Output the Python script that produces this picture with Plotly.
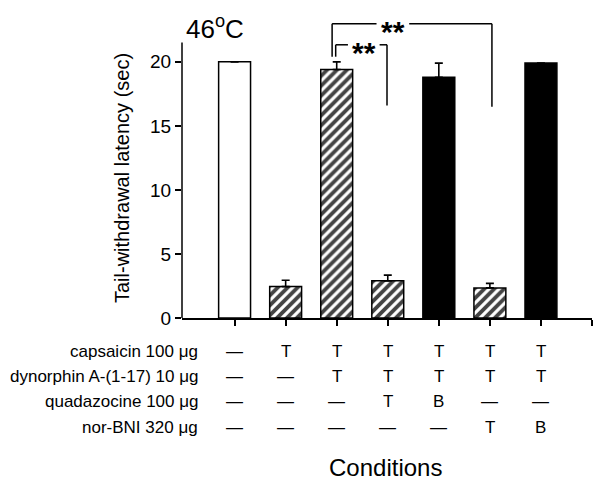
import plotly.graph_objects as go

# ---- data ----
conditions = ["C1", "C2", "C3", "C4", "C5", "C6", "C7"]
latency = [20.0, 2.45, 19.4, 2.9, 18.8, 2.35, 19.9]
sem = [0.0, 0.5, 0.6, 0.45, 1.1, 0.35, 0.0]
bar_fill = ["white", "white", "white", "white", "black", "white", "black"]
bar_hatch = ["", "/", "/", "/", "", "/", ""]

row_labels = ["capsaicin 100 μg", "dynorphin A-(1-17) 10 μg", "quadazocine 100 μg", "nor-BNI 320 μg"]
row_values = [
    ["—", "T", "T", "T", "T", "T", "T"],
    ["—", "—", "T", "T", "T", "T", "T"],
    ["—", "—", "—", "T", "B", "—", "—"],
    ["—", "—", "—", "—", "—", "T", "B"],
]
comparisons = [(2, 3, "**"), (2, 5, "**")]

W, H = 604, 484
ML, MR, MT, MB = 182, 12, 17, 166
PH = H - MT - MB
PW = W - ML - MR

def py2paper(py):
    return (H - MB - py) / PH

def px2paper(px):
    return (px - ML) / PW

xidx = list(range(len(conditions)))
font = "Liberation Sans, Arial, sans-serif"

fig = go.Figure()
fig.add_trace(go.Bar(
    x=xidx, y=latency, width=0.625,
    marker=dict(color=bar_fill, line=dict(color="black", width=1.5),
                pattern=dict(shape=bar_hatch, fgcolor="black", bgcolor="white", fgopacity=1,
                             size=7, solidity=0.55)),
    error_y=dict(type="data", symmetric=False, array=sem, arrayminus=[0]*len(sem),
                 color="black", thickness=1.6, width=4),
    showlegend=False,
))

shapes = []
shapes.append(dict(type="line", xref="paper", yref="y", x0=0, x1=0, y0=0, y1=21.5,
                   line=dict(color="black", width=1.5)))

br = [
    dict(l=comparisons[0][0] - 0.02, r=comparisons[0][1] - 0.015, top=21.33, lf=20.4, rf=16.6,
         g0=2.22, g1=2.84, sx=2.53, t=comparisons[0][2]),
    dict(l=comparisons[1][0] - 0.09, r=comparisons[1][1] + 0.04, top=22.97, lf=20.4, rf=16.5,
         g0=2.78, g1=3.42, sx=3.10, t=comparisons[1][2]),
]
annotations = []
for b in br:
    for (xa, ya, xb, yb) in [(b["l"], b["lf"], b["l"], b["top"]),
                             (b["l"], b["top"], b["g0"], b["top"]),
                             (b["g1"], b["top"], b["r"], b["top"]),
                             (b["r"], b["top"], b["r"], b["rf"])]:
        shapes.append(dict(type="line", xref="x", yref="y", x0=xa, y0=ya, x1=xb, y1=yb,
                           line=dict(color="black", width=1.5)))
    annotations.append(dict(x=b["sx"], y=b["top"], xref="x", yref="y", text="<b>" + b["t"] + "</b>",
                            showarrow=False, font=dict(family=font, size=30, color="black"),
                            xanchor="center", yanchor="middle", yshift=-8))

annotations.append(dict(x=px2paper(215), y=py2paper(27), xref="paper", yref="paper",
                        text="46<sup>o</sup>C", showarrow=False,
                        font=dict(family=font, size=26, color="black"),
                        xanchor="center", yanchor="middle"))
annotations.append(dict(x=px2paper(122), y=py2paper(178), xref="paper", yref="paper",
                        text="Tail-withdrawal latency (sec)", textangle=-90, showarrow=False,
                        font=dict(family=font, size=20, color="black"),
                        xanchor="center", yanchor="middle"))
row_py = [351, 376, 401, 427]
for lbl, vals, ry in zip(row_labels, row_values, row_py):
    annotations.append(dict(x=px2paper(200), y=py2paper(ry), xref="paper", yref="paper",
                            text=lbl, showarrow=False, xanchor="right", yanchor="middle",
                            font=dict(family=font, size=17, color="black")))
    for i, v in enumerate(vals):
        annotations.append(dict(x=xidx[i], y=py2paper(ry), xref="x", yref="paper",
                                text=v, showarrow=False, xanchor="center", yanchor="middle",
                                font=dict(family=font, size=17, color="black")))
annotations.append(dict(x=px2paper(385), y=py2paper(467), xref="paper", yref="paper",
                        text="Conditions", showarrow=False, xanchor="center", yanchor="middle",
                        font=dict(family=font, size=24, color="black")))

fig.update_layout(
    width=W, height=H, margin=dict(l=ML, r=MR, t=MT, b=MB),
    paper_bgcolor="white", plot_bgcolor="white",
    shapes=shapes, annotations=annotations,
    xaxis=dict(range=[-1.03, 7.0], tickvals=list(range(8)), showticklabels=False,
               ticks="outside", ticklen=6, tickwidth=1.5, tickcolor="black",
               showline=True, linecolor="black", linewidth=1.5, showgrid=False, zeroline=False),
    yaxis=dict(range=[0, 23.5], tickvals=[0, 5, 10, 15, 20], ticks="outside", ticklen=6,
               tickwidth=1.5, tickcolor="black", showline=False, showgrid=False, zeroline=False,
               tickfont=dict(family=font, size=19, color="black")),
)

fig.write_html("out.html", config={"displayModeBar": False},
               post_script="document.body.style.margin='0';document.body.style.overflow='hidden';")
